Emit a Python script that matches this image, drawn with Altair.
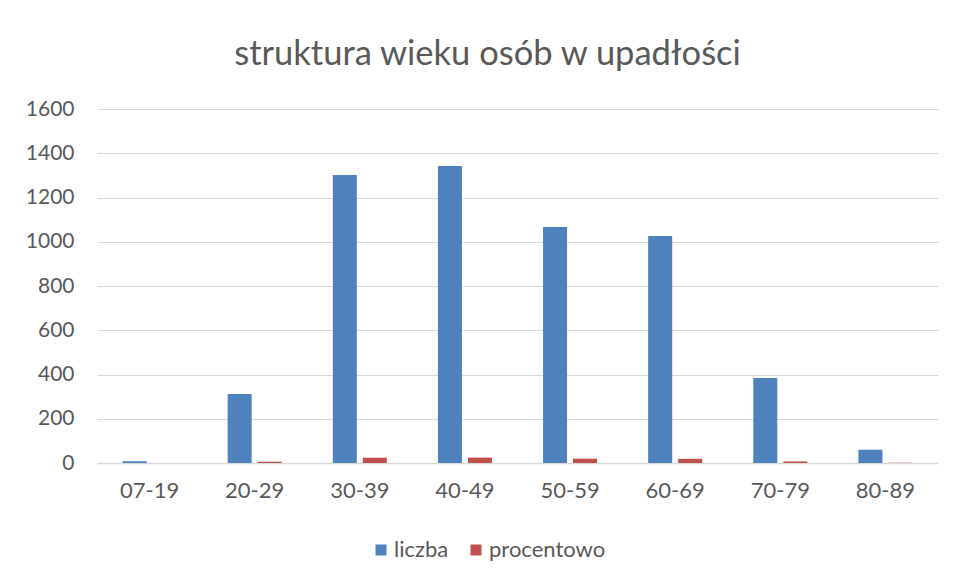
import altair as alt
import pandas as pd

categories = ["07-19", "20-29", "30-39", "40-49", "50-59", "60-69", "70-79", "80-89"]
liczba = [8, 312, 1302, 1342, 1067, 1026, 384, 60]
procentowo = [0.1, 5.7, 23.7, 24.4, 19.4, 18.7, 7.0, 1.1]
series = ["liczba", "procentowo"]
colors = ["#4F81BD", "#C0504D"]
y_ticks = [0, 200, 400, 600, 800, 1000, 1200, 1400, 1600]

rows = []
for c, a, b in zip(categories, liczba, procentowo):
    rows.append({"wiek": c, "seria": series[0], "wartosc": a})
    rows.append({"wiek": c, "seria": series[1], "wartosc": b})
df = pd.DataFrame(rows)

FONT = "Lato"
TXT = "#595959"

chart = alt.Chart(df).mark_bar().encode(
    x=alt.X("wiek:N", sort=categories, title=None,
            scale=alt.Scale(paddingInner=0.486, paddingOuter=0.243),
            axis=alt.Axis(labelAngle=0, labelFont=FONT, labelFontSize=22,
                          labelColor=TXT, labelPadding=17, ticks=False,
                          domain=True, domainColor="#D9D9D9", domainWidth=1.5,
                          grid=False)),
    xOffset=alt.XOffset("seria:N", sort=series,
                        scale=alt.Scale(paddingInner=0.2, paddingOuter=0)),
    y=alt.Y("wartosc:Q", title=None,
            scale=alt.Scale(domain=[0, 1600], nice=False),
            axis=alt.Axis(values=y_ticks, format="d", labelFont=FONT, labelFontSize=21,
                          labelColor=TXT, labelPadding=23, ticks=False,
                          domain=False, grid=True, gridColor="#D9D9D9",
                          gridWidth=1)),
    color=alt.Color("seria:N", sort=series,
                    scale=alt.Scale(domain=series, range=colors),
                    legend=alt.Legend(title=None, orient="none", direction="horizontal",
                                      legendX=273, legendY=430,
                                      symbolType="square", symbolSize=121,
                                      symbolStrokeWidth=0, labelFont=FONT,
                                      labelFontSize=22, labelColor=TXT,
                                      labelOffset=2, columnPadding=16)),
).properties(
    width=841,
    height=354,
    title=alt.TitleParams("struktura wieku osób w upadłości", font=FONT,
                          fontSize=34.5, fontWeight="normal", color=TXT,
                          anchor="middle", offset=26, dx=-30),
    autosize=alt.AutoSizeParams(type="none"),
    padding={"left": 89, "top": 101, "right": 9, "bottom": 110},
    background="white",
).configure_view(stroke=None)

chart.save("out.html", embed_options={"renderer": "svg", "actions": False})
